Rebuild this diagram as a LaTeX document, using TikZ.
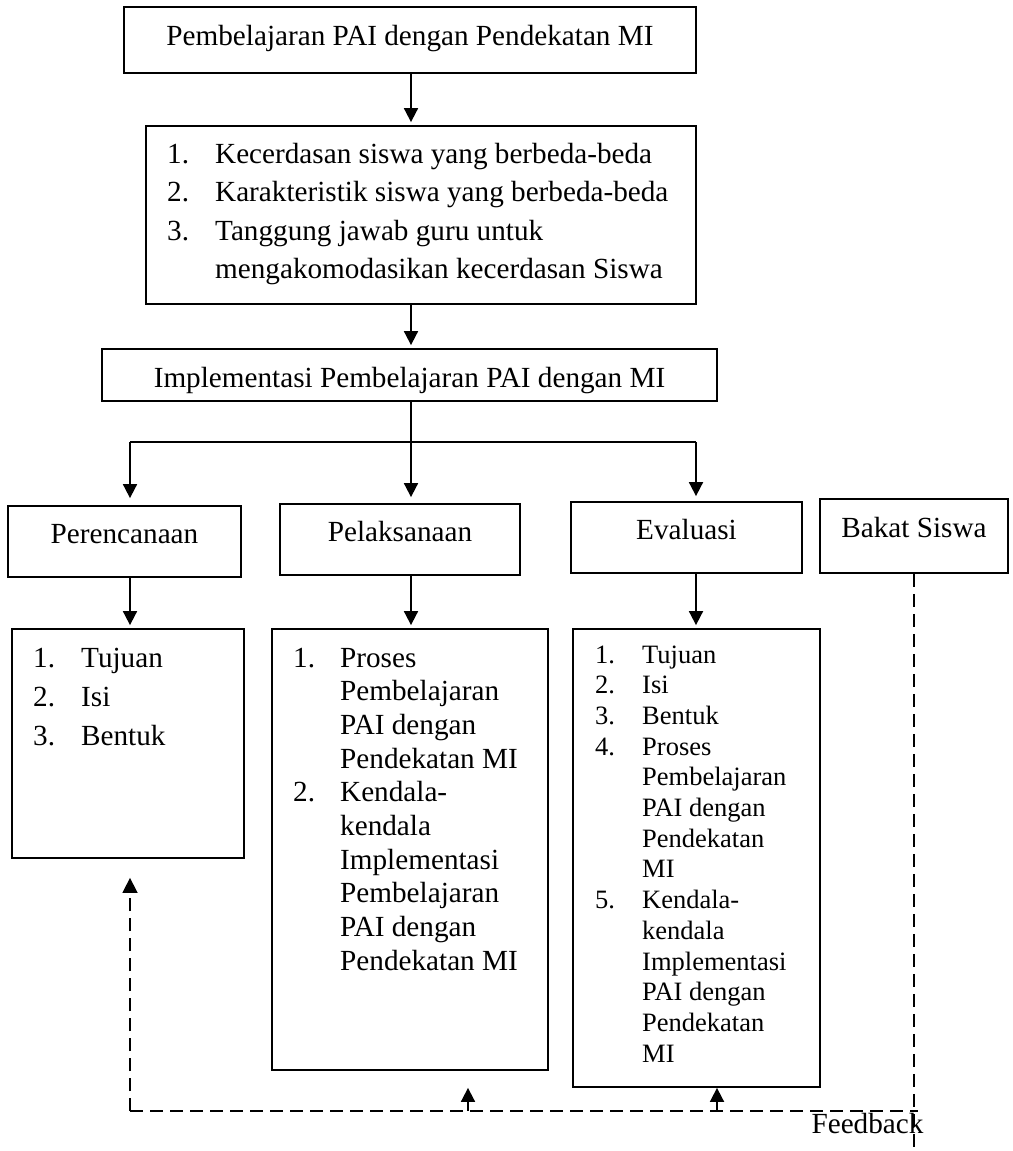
\documentclass[tikz,border=0pt]{standalone}
\usepackage{fontspec}
\setmainfont{Liberation Serif}
\usetikzlibrary{arrows.meta,calc}

\begin{document}
\begin{tikzpicture}[x=1pt, y=-1pt,
    box/.style={draw, line width=1.8pt, inner sep=0pt, font=\fontsize{29.2}{35}\selectfont},
    hdr/.style={text height=20pt, text depth=17pt},
    lst/.style={anchor=base west, inner sep=0pt},
    arr/.style={line width=1.8pt, -{Triangle[length=14pt,width=14pt]}},
    fb/.style={line width=1.6pt, dash pattern=on 13pt off 7pt}]
    \useasboundingbox (0,0) rectangle (1012,1151);

    % the boxes on top
    \node[box, minimum width=572pt, minimum height=66pt, text height=20pt, text depth=10pt] (top) at (410,40) {Pembelajaran PAI dengan Pendekatan MI};
    \node[box, minimum width=550pt, minimum height=178pt] (reason) at (421,215) {};
    \node[box, minimum width=615pt, minimum height=52pt, text height=24pt, text depth=0pt] (impl) at (409.5,375) {Implementasi Pembelajaran PAI dengan MI};

    % the texts of the reasons
    \node[lst] (reasontxt) at (167,163) {\fontsize{29.2}{38.5}\selectfont
      \begin{tabular}[t]{@{}p{48pt}@{}l@{}}
        1. & Kecerdasan siswa yang berbeda-beda\\
        2. & Karakteristik siswa yang berbeda-beda\\
        3. & Tanggung jawab guru untuk\\
           & mengakomodasikan kecerdasan Siswa
      \end{tabular}};

    % the four stages
    \node[box, hdr, minimum width=233pt, minimum height=71pt] (plan) at (124.5,541.5) {Perencanaan};
    \node[box, hdr, minimum width=240pt, minimum height=71pt] (exec) at (400,539.5) {Pelaksanaan};
    \node[box, hdr, minimum width=231pt, minimum height=71pt] (eval) at (686.5,537.5) {Evaluasi};
    \node[box, hdr, minimum width=188pt, minimum height=74pt] (talent) at (914,536) {Bakat Siswa};

    % the boxes with the lists
    \node[box, minimum width=232pt, minimum height=229pt] (planlist) at (128,743.5) {};
    \node[box, minimum width=276pt, minimum height=441pt] (execlist) at (410,849.5) {};
    \node[box, minimum width=247pt, minimum height=458pt] (evallist) at (696.5,858) {};

    \node[lst] (plantxt) at (33,667) {\fontsize{29.2}{39}\selectfont
      \begin{tabular}[t]{@{}p{48pt}@{}l@{}}
        1. & Tujuan\\
        2. & Isi\\
        3. & Bentuk
      \end{tabular}};
    \node[lst] (exectxt) at (293,667) {\fontsize{29.2}{33.7}\selectfont
      \begin{tabular}[t]{@{}p{47pt}@{}l@{}}
        1. & Proses\\
           & Pembelajaran\\
           & PAI dengan\\
           & Pendekatan MI\\
        2. & Kendala-\\
           & kendala\\
           & Implementasi\\
           & Pembelajaran\\
           & PAI dengan\\
           & Pendekatan MI
      \end{tabular}};
    \node[lst] (evaltxt) at (595,663) {\fontsize{26.5}{30.7}\selectfont
      \begin{tabular}[t]{@{}p{47pt}@{}l@{}}
        1. & Tujuan\\
        2. & Isi\\
        3. & Bentuk\\
        4. & Proses\\
           & Pembelajaran\\
           & PAI dengan\\
           & Pendekatan\\
           & MI\\
        5. & Kendala-\\
           & kendala\\
           & Implementasi\\
           & PAI dengan\\
           & Pendekatan\\
           & MI
      \end{tabular}};

    % the arrows
    \coordinate (split) at (411,442);
    \coordinate (bl) at (130,442);
    \coordinate (br) at (696,442);
    \draw[arr, shorten >=3pt] (split |- top.south) -- (split |- reason.north);
    \draw[arr, shorten >=3pt] (split |- reason.south) -- (split |- impl.north);
    \draw[line width=1.8pt] (split |- impl.south) -- (split);
    \draw[line width=1.8pt] (bl) -- (br);
    \draw[arr, shorten >=7pt] (bl) -- (bl |- plan.north);
    \draw[arr, shorten >=6pt] (split) -- (split |- exec.north);
    \draw[arr, shorten >=5pt] (br) -- (br |- eval.north);
    \draw[arr, shorten >=3pt] (bl |- plan.south) -- (bl |- planlist.north);
    \draw[arr, shorten >=3pt] (split |- exec.south) -- (split |- execlist.north);
    \draw[arr, shorten >=3pt] (br |- eval.south) -- (br |- evallist.north);

    % the feedback
    \coordinate (fbL) at (130,1111);
    \coordinate (fbR) at (918,1111);
    \coordinate (fbA) at (468,1111);
    \coordinate (fbB) at (717,1111);
    \coordinate (fbEnd) at (915,1151);
    \draw[fb] (talent.south) -- (talent.south |- fbEnd);
    \draw[fb] (fbL) -- (fbR);
    \draw[fb, -{Triangle[length=15pt,width=15pt]}] (fbL) -- ($(fbL |- planlist.south)+(0,19)$);
    \draw[arr] (fbA) -- ($(fbA |- execlist.south)+(0,17)$);
    \draw[arr] (fbB) -- (fbB |- evallist.south);
    \node[anchor=base, inner sep=0pt, font=\fontsize{29.2}{35}\selectfont] (fbtxt) at (867.5,1133) {Feedback};
\end{tikzpicture}
\end{document}
